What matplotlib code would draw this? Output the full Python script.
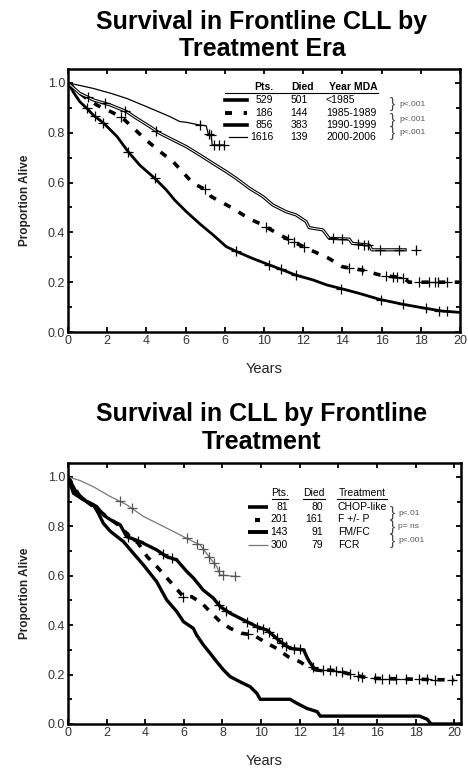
import numpy as np
import matplotlib
matplotlib.use("Agg")
import matplotlib.pyplot as plt
from matplotlib.lines import Line2D
from matplotlib.ticker import MultipleLocator

plt.rcParams['font.family'] = ['Liberation Sans', 'DejaVu Sans']

# ---------------- data: top panel (treatment era) ----------------
era_labels = ["<1985", "1985-1989", "1990-1999", "2000-2006"]
era_pts = ["529", "186", "856", "1616"]
era_died = ["501", "144", "383", "139"]
era_p = ["p<.001", "p<.001", "p<.001"]

era1_t = [0, 0.3, 0.6, 1.0, 1.3, 1.8, 2.5, 3.07, 3.66, 4.43, 5.02, 5.44, 6.04, 6.7, 7.4, 8.07, 8.6, 9.4,
          10.28, 10.96, 11.6, 12.5, 13.2, 14.0, 14.86, 15.9, 17.1, 18.25, 19.1, 19.95]
era1_s = [1.0, 0.96, 0.925, 0.895, 0.87, 0.84, 0.785, 0.724, 0.67, 0.617, 0.57, 0.53, 0.483, 0.436, 0.39,
          0.343, 0.323, 0.296, 0.269, 0.249, 0.229, 0.209, 0.189, 0.173, 0.155, 0.131, 0.111, 0.095, 0.084, 0.079]
era1_c = [0.95, 1.37, 1.8, 3.07, 4.43, 8.58, 10.28, 10.87, 11.64, 13.93, 15.96, 17.07, 18.25, 18.93, 19.36]

era2_t = [0, 0.5, 1.0, 1.5, 2.3, 2.8, 4.0, 4.7, 5.36, 6.38, 7.06, 7.3, 8.4, 9.26, 9.94, 10.8, 11.47, 12.3,
          13.3, 14.0, 15.0, 15.9, 16.6, 17.1, 17.4, 19.95]
era2_s = [1.0, 0.965, 0.935, 0.91, 0.88, 0.858, 0.77, 0.724, 0.684, 0.597, 0.57, 0.544, 0.497, 0.454, 0.43,
          0.39, 0.363, 0.332, 0.296, 0.262, 0.249, 0.229, 0.222, 0.218, 0.2, 0.2]
era2_c = [2.7, 7.0, 10.1, 11.2, 11.55, 12.05, 14.35, 15.0, 16.2, 16.6, 16.8, 17.1, 17.9, 18.4, 18.7, 18.9, 19.35]

era3_t = [0, 0.6, 1.29, 2.14, 2.99, 3.5, 4.17, 4.68, 5.36, 6.04, 6.72, 7.4, 8.07, 8.58, 9.26, 9.94, 10.45,
          11.13, 11.64, 12.15, 12.3, 13.0, 13.33, 14.35, 14.5, 15.37, 15.5, 17.2]
era3_s = [1.0, 0.958, 0.932, 0.912, 0.885, 0.858, 0.825, 0.798, 0.771, 0.744, 0.711, 0.677, 0.644, 0.617,
          0.577, 0.544, 0.51, 0.483, 0.47, 0.443, 0.419, 0.41, 0.376, 0.373, 0.356, 0.349, 0.33, 0.33]
era3_c = [1.0, 1.9, 2.9, 4.5, 13.5, 14.0, 14.8, 15.1, 15.3, 15.9, 16.9, 17.75]

era4_t = [0, 0.6, 1.29, 2.2, 2.99, 4.0, 5.2, 5.7, 6.04, 6.72, 7.05, 7.15, 7.3, 7.36, 7.95]
era4_s = [1.0, 0.99, 0.978, 0.958, 0.938, 0.905, 0.865, 0.845, 0.842, 0.831, 0.828, 0.797, 0.79, 0.751, 0.751]
era4_c = [6.72, 7.2, 7.3, 7.43, 7.7, 7.94]

top_xticklabels = ['0', '2', '4', '6', '6', '10', '12', '14', '16', '18', '20']

# ---------------- data: bottom panel (frontline treatment) ----------------
trt_labels = ["CHOP-like", "F +/- P", "FM/FC", "FCR"]
trt_pts = ["81", "201", "143", "300"]
trt_died = ["80", "161", "91", "79"]
trt_p = ["p<.01", "p= ns", "p<.001"]

chop_t = [0, 0.28, 0.8, 1.31, 1.57, 1.83, 2.2, 2.87, 3.38, 3.9, 4.59, 5.11, 5.63, 5.98, 6.49, 6.66, 7.01,
          7.36, 7.7, 8.05, 8.39, 8.9, 9.43, 9.78, 9.95, 11.5, 11.85, 12.37, 12.9, 13.06, 18.2, 18.6, 18.8, 20.35]
chop_s = [1.0, 0.934, 0.907, 0.887, 0.853, 0.812, 0.779, 0.738, 0.691, 0.644, 0.576, 0.502, 0.455, 0.414,
          0.387, 0.36, 0.32, 0.286, 0.252, 0.219, 0.192, 0.171, 0.151, 0.124, 0.1, 0.1, 0.084, 0.063, 0.05,
          0.032, 0.032, 0.019, 0.0, 0.0]

fp_t = [0, 0.62, 1.31, 2.0, 2.7, 3.2, 3.64, 4.1, 4.6, 5.37, 5.98, 6.4, 6.93, 7.44, 7.88, 8.4, 9.0, 9.6,
        10.3, 10.8, 11.4, 12.0, 12.4, 12.9, 13.9, 14.8, 15.65, 20.0]
fp_s = [1.0, 0.92, 0.88, 0.84, 0.8, 0.758, 0.731, 0.677, 0.637, 0.569, 0.515, 0.515, 0.489, 0.448, 0.414,
        0.387, 0.367, 0.36, 0.327, 0.306, 0.272, 0.252, 0.232, 0.221, 0.216, 0.198, 0.185, 0.178]
fp_c = [5.98, 9.3, 13.2, 13.55, 13.9, 14.2, 14.6, 15.0, 15.2, 15.9, 16.25, 16.6, 17.0, 17.5, 18.2, 18.6,
        19.0, 19.9]

fmfc_t = [0, 0.45, 0.97, 1.48, 1.83, 2.2, 2.7, 3.04, 3.73, 4.6, 5.11, 5.63, 6.15, 6.5, 7.0, 7.53, 7.88,
          8.4, 9.26, 9.78, 10.3, 10.6, 11.0, 11.5, 12.2, 12.4, 12.5, 12.8, 13.1]
fmfc_s = [1.0, 0.934, 0.9, 0.88, 0.846, 0.826, 0.806, 0.758, 0.738, 0.704, 0.677, 0.664, 0.617, 0.59,
          0.542, 0.509, 0.475, 0.448, 0.414, 0.394, 0.38, 0.36, 0.333, 0.306, 0.3, 0.266, 0.252, 0.219, 0.216]
fmfc_c = [3.1, 3.6, 4.9, 5.4, 7.8, 8.2, 9.26, 9.8, 10.1, 10.4, 10.8, 11.07, 11.3, 11.7, 12.0, 12.7]

fcr_t = [0, 0.62, 1.31, 2.2, 3.04, 3.9, 4.77, 5.63, 6.3, 6.84, 7.1, 7.36, 7.7, 7.88, 8.74]
fcr_s = [1.0, 0.985, 0.96, 0.92, 0.887, 0.84, 0.806, 0.772, 0.745, 0.725, 0.698, 0.671, 0.637, 0.603, 0.597]
fcr_c = [2.7, 3.3, 6.15, 6.7, 7.0, 7.3, 7.55, 7.8, 8.05, 8.65]

# ---------------- figure ----------------
W, H = 468, 775
fig = plt.figure(figsize=(W / 100, H / 100), dpi=100)


def fx(px):
    return px / W


def fy(py):
    return 1 - py / H


def style_axes(ax, xmax, xticklabels):
    ax.set_xlim(0, xmax)
    ax.set_ylim(0, 1.056)
    ax.set_xticks(np.arange(0, 21, 2))
    ax.set_xticklabels(xticklabels)
    ax.set_yticks([0, 0.2, 0.4, 0.6, 0.8, 1.0])
    ax.set_yticklabels(['0.0', '0.2', '0.4', '0.6', '0.8', '1.0'])
    ax.yaxis.set_minor_locator(MultipleLocator(0.1))
    ax.tick_params(which='both', direction='in', top=True, right=True, width=1.3, length=3.5,
                   labelsize=9, labelcolor='#333333', pad=2)
    ax.tick_params(which='minor', length=3)
    for sp in ax.spines.values():
        sp.set_linewidth(1.8)
    ax.set_xlabel('Years', fontsize=10.5, color='#222222', labelpad=11)
    ax.set_ylabel('Proportion Alive', fontsize=8.5, fontweight='bold', color='#222222', labelpad=12)


def censor(ax, t, s, c, color='black'):
    cy = np.interp(c, t, s)
    ax.plot(c, cy, linestyle='none', marker='+', markersize=6.5, mew=0.9, color=color, zorder=5)


# ---------- top panel ----------
ax1 = fig.add_axes([fx(68), fy(332), fx(460) - fx(68), fy(69) - fy(332)])
ax1.plot(era1_t, era1_s, color='black', lw=2.0, solid_joinstyle='round')
ax1.plot(era2_t, era2_s, color='black', lw=2.6, dashes=(2.0, 2.6))
ax1.plot(era3_t, era3_s, color='black', lw=2.3)
ax1.plot(era3_t, era3_s, color='white', lw=0.7)
ax1.plot(era4_t, era4_s, color='black', lw=0.9)
censor(ax1, era1_t, era1_s, era1_c)
censor(ax1, era2_t, era2_s, era2_c)
censor(ax1, era3_t, era3_s, era3_c)
censor(ax1, era4_t, era4_s, era4_c)
style_axes(ax1, 20, top_xticklabels)

fig.text(fx(262), fy(29), 'Survival in Frontline CLL by', ha='center', va='baseline',
         fontsize=18, fontweight='bold')
fig.text(fx(262), fy(56), 'Treatment Era', ha='center', va='baseline', fontsize=18, fontweight='bold')

# top legend table
fs_leg = 7.5
fig.text(fx(264), fy(87), 'Pts.', ha='center', va='center', fontsize=fs_leg, fontweight='bold')
fig.text(fx(303), fy(87), 'Died', ha='center', va='center', fontsize=fs_leg, fontweight='bold')
fig.text(fx(353), fy(87), 'Year MDA', ha='center', va='center', fontsize=fs_leg, fontweight='bold')
fig.add_artist(Line2D([fx(225), fx(378)], [fy(92.5), fy(92.5)], transform=fig.transFigure,
                      color='black', lw=0.8))
rows_top = [100, 112.5, 125, 137]
samples_top = [dict(lw=2.6), dict(lw=2.8, dashes=(1.8, 3.0)), dict(lw=2.6), dict(lw=0.9)]
for i, y in enumerate(rows_top):
    x0 = 225 if i != 3 else 229
    fig.add_artist(Line2D([fx(x0), fx(247)], [fy(y), fy(y)], transform=fig.transFigure,
                          color='black', **samples_top[i]))
    fig.text(fx(273), fy(y), era_pts[i], ha='right', va='center', fontsize=fs_leg)
    fig.text(fx(308), fy(y), era_died[i], ha='right', va='center', fontsize=fs_leg)
    fig.text(fx(326), fy(y), era_labels[i], ha='left', va='center', fontsize=fs_leg)
brace_top = [(rows_top[0] + rows_top[1]) / 2 - 2, (rows_top[1] + rows_top[2]) / 2 + 1,
             (rows_top[2] + rows_top[3]) / 2 + 2]
for yb, pt in zip(brace_top, era_p):
    fig.text(fx(392), fy(yb), '}', ha='center', va='center', fontsize=11, color='#444444')
    fig.text(fx(399), fy(yb), pt, ha='left', va='center', fontsize=6, color='#555555')

# ---------- bottom panel ----------
ax2 = fig.add_axes([fx(68), fy(724), fx(461) - fx(68), fy(463) - fy(724)])
ax2.plot(chop_t, chop_s, color='black', lw=2.4, solid_joinstyle='miter')
ax2.plot(fp_t, fp_s, color='black', lw=2.6, dashes=(2.0, 2.4))
ax2.plot(fmfc_t, fmfc_s, color='black', lw=2.4, solid_joinstyle='miter')
ax2.plot(fcr_t, fcr_s, color='#777777', lw=0.9)
censor(ax2, fp_t, fp_s, fp_c)
censor(ax2, fmfc_t, fmfc_s, fmfc_c)
censor(ax2, fcr_t, fcr_s, fcr_c, color='#555555')
style_axes(ax2, 20.35, [str(v) for v in range(0, 21, 2)])

fig.text(fx(262), fy(421), 'Survival in CLL by Frontline', ha='center', va='baseline',
         fontsize=18, fontweight='bold')
fig.text(fx(262), fy(449), 'Treatment', ha='center', va='baseline', fontsize=18, fontweight='bold')

# bottom legend table
fig.text(fx(280), fy(493), 'Pts.', ha='center', va='center', fontsize=fs_leg)
fig.text(fx(314), fy(493), 'Died', ha='center', va='center', fontsize=fs_leg)
fig.text(fx(362), fy(493), 'Treatment', ha='center', va='center', fontsize=fs_leg)
for a, b in [(272, 288), (303, 325), (337, 387)]:
    fig.add_artist(Line2D([fx(a), fx(b)], [fy(498.5), fy(498.5)], transform=fig.transFigure,
                          color='black', lw=0.8))
rows_bot = [507, 519.5, 532, 545]
samples_bot = [dict(x0=248, x1=268, lw=2.6, color='black'),
               dict(x0=255, x1=260, lw=3.0, color='black'),
               dict(x0=248, x1=268, lw=2.8, color='black'),
               dict(x0=248, x1=268, lw=0.9, color='#777777')]
for i, y in enumerate(rows_bot):
    s = samples_bot[i]
    fig.add_artist(Line2D([fx(s['x0']), fx(s['x1'])], [fy(y), fy(y)], transform=fig.transFigure,
                          color=s['color'], lw=s['lw'], solid_capstyle='butt'))
    fig.text(fx(288), fy(y), trt_pts[i], ha='right', va='center', fontsize=fs_leg)
    fig.text(fx(323), fy(y), trt_died[i], ha='right', va='center', fontsize=fs_leg)
    fig.text(fx(338), fy(y), trt_labels[i], ha='left', va='center', fontsize=fs_leg)
brace_bot = [(rows_bot[0] + rows_bot[1]) / 2, (rows_bot[1] + rows_bot[2]) / 2 + 1,
             (rows_bot[2] + rows_bot[3]) / 2 + 2]
for yb, pt in zip(brace_bot, trt_p):
    fig.text(fx(392), fy(yb), '}', ha='center', va='center', fontsize=11, color='#444444')
    fig.text(fx(398), fy(yb), pt, ha='left', va='center', fontsize=6, color='#555555')

fig.savefig('out.png', dpi=100)
